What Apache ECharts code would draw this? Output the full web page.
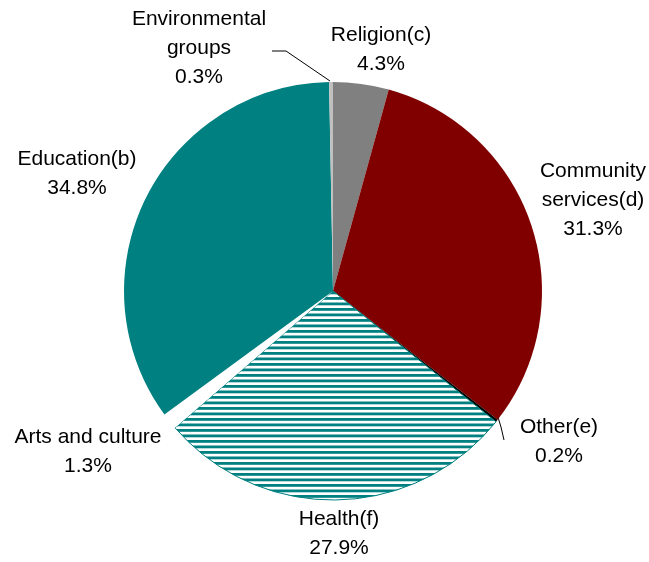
<!DOCTYPE html>
<html>
<head>
<meta charset="utf-8">
<script src="https://cdn.jsdelivr.net/npm/echarts@6/dist/echarts.min.js"></script>
<style>
  html, body { margin: 0; padding: 0; background: #ffffff; }
  #chart { width: 649px; height: 562px; }
</style>
</head>
<body>
<div id="chart"></div>
<script>
// Shares of giving by sector, clockwise from 12 o'clock
var categories = ['Religion(c)', 'Community services(d)', 'Other(e)', 'Health(f)', 'Arts and culture', 'Education(b)', 'Environmental groups'];
var labelNames = ['Religion(c)', 'Community\nservices(d)', 'Other(e)', 'Health(f)', 'Arts and culture', 'Education(b)', 'Environmental\ngroups'];
var shares = [4.3, 31.3, 0.2, 27.9, 1.3, 34.8, 0.3];

var sliceColors = ['#808080', '#800000', '#000000', null, '#ffffff', '#008080', '#c0c0c0'];

// Label anchor positions (centre of each text block) and leader lines
var labelPos = [
  [381, 50], [593, 200], [559, 442], [339, 534], [88, 452], [77, 174], [199, 48]
];
var leaderLines = {
  2: [[497, 414], [501, 427], [504, 440]],
  6: [[330, 81], [286, 51], [272, 51]]
};

// Horizontal teal stripes for the Health slice
function stripePattern() {
  var c = document.createElement('canvas');
  c.width = 8; c.height = 11;
  var ctx = c.getContext('2d');
  ctx.fillStyle = '#ffffff';
  ctx.fillRect(0, 0, 8, 11);
  ctx.fillStyle = '#008080';
  ctx.fillRect(0, 0, 8, 2.8);
  ctx.fillRect(0, 5.5, 8, 2.8);
  return c;
}

var data = categories.map(function (name, i) {
  var item = {
    name: name,
    value: shares[i],
    itemStyle: {},
    labelLine: { show: !!leaderLines[i] }
  };
  if (i === 3) {
    item.itemStyle.color = { image: stripePattern(), repeat: 'repeat' };
    item.itemStyle.borderColor = '#008080';
    item.itemStyle.borderWidth = 1;
  } else {
    item.itemStyle.color = sliceColors[i];
  }
  return item;
});

var chart = echarts.init(document.getElementById('chart'), null, { renderer: 'canvas' });
chart.setOption({
  animation: false,
  backgroundColor: '#ffffff',
  series: [{
    type: 'pie',
    center: [333, 291],
    radius: 209,
    startAngle: 90,
    clockwise: true,
    avoidLabelOverlap: false,
    emphasis: { disabled: true },
    data: data,
    itemStyle: { borderWidth: 0 },
    label: {
      show: true,
      position: 'outside',
      fontFamily: 'Liberation Sans, Arial, sans-serif',
      fontSize: 21,
      lineHeight: 29,
      color: '#000000',
      align: 'center',
      formatter: function (p) {
        return labelNames[p.dataIndex] + '\n' + p.value.toFixed(1) + '%';
      }
    },
    labelLine: {
      show: true,
      lineStyle: { color: '#000000', width: 1 },
      length: 10,
      length2: 10
    },
    labelLayout: function (params) {
      var i = params.dataIndex;
      var res = {
        x: labelPos[i][0],
        y: labelPos[i][1],
        align: 'center',
        verticalAlign: 'middle'
      };
      if (leaderLines[i]) res.labelLinePoints = leaderLines[i];
      return res;
    }
  }]
});
</script>
</body>
</html>
